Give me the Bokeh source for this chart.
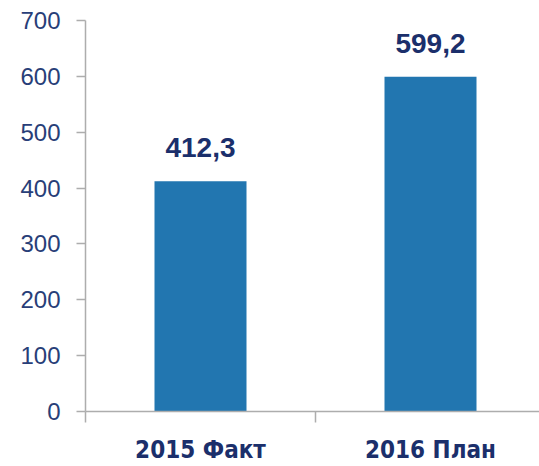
from bokeh.plotting import figure
from bokeh.models import ColumnDataSource, Range1d, FixedTicker
from bokeh.core.properties import value
from bokeh.embed import file_html
from bokeh.resources import INLINE

categories = ["2015 Факт", "2016 План"]
values = [412.3, 599.2]
y_ticks = [0, 100, 200, 300, 400, 500, 600, 700]

value_labels = [f"{v:.1f}".replace(".", ",") for v in values]
x_pos = [i + 0.5 for i in range(len(categories))]

BAR = "#2276B0"
NAVY = "#1B2F6B"
AXIS_TXT = "#283E78"
GREY = "#ADADAD"

src = ColumnDataSource(dict(x=x_pos, top=values, label=value_labels))

W, H = 539, 466
left, top, bottom = 85, 20, 53
cat_px = 230
x_end = (W - left) / cat_px

p = figure(width=W, height=H, output_backend="svg", toolbar_location=None,
           x_range=Range1d(0, x_end), y_range=Range1d(0, 700),
           min_border_left=left, min_border_right=0, min_border_top=top,
           min_border_bottom=bottom)
p.outline_line_color = None
p.xgrid.grid_line_color = None
p.ygrid.grid_line_color = None
p.background_fill_color = "white"
p.border_fill_color = "white"

p.vbar(x="x", top="top", width=0.4, bottom=0, source=src,
       fill_color=BAR, line_color=None)

p.text(x="x", y="top", text="label", source=src, y_offset=-24,
       text_align="center", text_baseline="bottom",
       text_font=value("Liberation Sans"), text_font_style="bold",
       text_font_size="28px", text_color=NAVY)

# y axis
ya = p.yaxis[0]
ya.ticker = FixedTicker(ticks=y_ticks)
ya.axis_line_color = GREY
ya.axis_line_width = 1.5
ya.major_tick_line_color = GREY
ya.major_tick_line_width = 1.5
ya.major_tick_in = 0
ya.major_tick_out = 9
ya.minor_tick_line_color = None
ya.major_label_standoff = 16
ya.major_label_text_font = "Liberation Sans"
ya.major_label_text_font_size = "24px"
ya.major_label_text_color = AXIS_TXT

# x axis
xa = p.xaxis[0]
xa.ticker = FixedTicker(ticks=x_pos, minor_ticks=[0, 1, 2])
xa.major_label_overrides = {x: c for x, c in zip(x_pos, categories)}
xa.axis_line_color = GREY
xa.axis_line_width = 1.5
xa.major_tick_line_color = None
xa.major_tick_in = 0
xa.major_tick_out = 0
xa.minor_tick_line_color = GREY
xa.minor_tick_line_width = 1.5
xa.minor_tick_in = 0
xa.minor_tick_out = 11
xa.major_label_standoff = 13
xa.major_label_text_font = "DejaVu Sans Condensed, Liberation Sans"
xa.major_label_text_font_style = "bold"
xa.major_label_text_font_size = "24px"
xa.major_label_text_line_height = 1.0
xa.major_label_text_color = NAVY

open("out.html", "w").write(file_html(p, INLINE))
